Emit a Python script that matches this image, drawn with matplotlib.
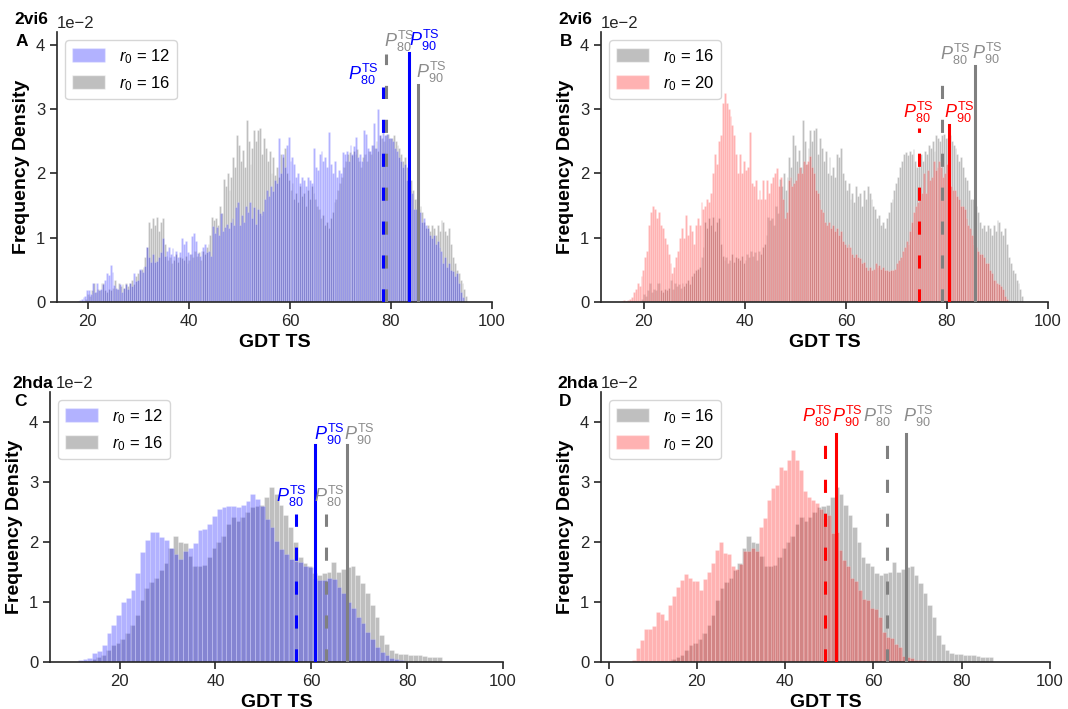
import numpy as np
import matplotlib
matplotlib.use("Agg")
import matplotlib.pyplot as plt
from matplotlib.patches import Patch

plt.rcParams['font.family'] = ['Liberation Sans', 'DejaVu Sans']
plt.rcParams['mathtext.fontset'] = 'custom'
plt.rcParams['mathtext.rm'] = 'Liberation Sans'
plt.rcParams['mathtext.it'] = 'Liberation Sans:italic'
plt.rcParams['mathtext.bf'] = 'Liberation Sans:bold'

# ---- histogram densities (units of 1e-2) -------------------------------
# 2vi6, r0 = 12  (200 bins from 17.8, width 0.383)
vi6_r12_start, vi6_r12_width = 17.8, 0.383
vi6_r12 = [
    0.02, 0.03, 0.05, 0.08, 0.10, 0.18,
    0.18, 0.12, 0.29, 0.15, 0.30, 0.18, 0.20, 0.28, 0.35, 0.45, 0.42, 0.57, 0.47,
    0.26, 0.22, 0.20, 0.28, 0.15, 0.22, 0.28, 0.20, 0.30, 0.25, 0.45, 0.32, 0.34,
    0.52, 0.50, 0.47, 0.56, 0.86, 0.70, 0.62, 0.75, 0.62, 0.64, 0.70, 0.78, 1.00,
    0.72, 0.80, 0.86, 0.75, 0.84, 0.72, 0.80, 0.70, 0.78, 1.00, 0.90, 0.95, 0.78,
    0.75, 1.02, 1.07, 0.95, 0.76, 0.72, 0.80, 0.85, 0.90, 0.78, 0.80, 0.72, 1.18,
    1.07, 1.17, 1.05, 1.38, 1.10, 1.17, 1.22, 1.15, 1.25, 1.30, 1.20, 1.48, 1.56,
    1.20, 1.35, 1.25, 1.50, 1.40, 1.56, 1.30, 1.48, 1.22, 1.45, 1.38, 1.36, 1.42,
    1.60, 1.75, 1.65, 1.80, 1.72, 1.90, 1.85, 2.55, 2.00, 2.30, 2.10, 2.45, 2.57,
    2.20, 2.25, 2.15, 1.95, 2.00, 1.85, 1.95, 1.90, 1.80, 1.95, 1.90, 1.85, 2.39,
    2.10, 2.05, 2.30, 2.35, 2.20, 2.26, 2.10, 2.65, 2.15, 2.00, 2.20, 1.95, 2.05,
    2.00, 2.33, 2.30, 2.35, 2.20, 2.45, 2.30, 2.43, 2.57, 2.25, 2.30, 2.20, 2.67,
    2.62, 2.40, 2.35, 2.45, 2.78, 2.40, 3.00, 2.60, 2.55, 2.65, 2.60, 2.62, 2.55,
    2.55, 2.50, 2.40, 2.35, 2.25, 2.20, 2.10, 2.15, 1.90, 2.00, 1.75, 1.70, 1.45,
    1.45, 1.35, 1.40, 1.25, 1.30, 1.20, 1.15, 1.05, 1.00, 1.05, 0.90, 0.95, 0.85,
    0.80, 0.60, 0.70, 0.55, 0.60, 0.50, 0.48, 0.40, 0.45, 0.30, 0.15, 0.08,
]

# 2vi6, r0 = 16  (200 bins from 19.5, width 0.378)
vi6_r16_start, vi6_r16_width = 19.5, 0.378
vi6_r16 = [
    0.05, 0.12, 0.10, 0.18, 0.29, 0.15, 0.20, 0.18, 0.30, 0.30, 0.18, 0.15, 0.20, 0.18, 0.22,
    0.35, 0.20, 0.29, 0.25, 0.28, 0.22, 0.30, 0.25, 0.30, 0.35, 0.28, 0.40, 0.45,
    0.50, 0.52, 0.55, 0.70, 0.85, 1.25, 1.15, 1.30, 1.20, 1.33, 1.10, 1.25, 1.30,
    0.90, 0.72, 0.65, 0.70, 0.60, 0.65, 0.75, 0.62, 0.70, 0.68, 0.65, 0.72, 0.60,
    0.65, 0.75, 0.70, 0.80, 0.72, 0.78, 0.65, 0.80, 0.75, 0.85, 0.90, 1.05, 1.33,
    1.27, 1.30, 1.20, 1.50, 1.38, 1.92, 1.80, 2.00, 1.75, 1.95, 2.25, 2.10, 2.60, 2.45,
    2.20, 2.36, 2.10, 2.83, 2.50, 2.15, 2.40, 2.67, 2.50, 2.67, 2.70, 2.30, 2.55,
    2.40, 2.20, 2.35, 2.00, 2.25, 1.97, 2.10, 1.95, 2.30, 2.25, 2.40, 2.00, 1.90,
    1.75, 1.85, 1.60, 1.70, 1.55, 1.80, 1.65, 1.70, 1.50, 1.75, 1.60, 1.80, 1.70,
    1.60, 1.50, 1.45, 1.30, 1.35, 1.20, 1.25, 1.15, 1.30, 1.40, 1.55, 1.60, 1.75,
    1.85, 1.95, 2.10, 2.20, 2.30, 2.33, 2.28, 2.35, 2.30, 2.38, 2.20, 2.10, 2.25, 2.30,
    2.20, 2.35, 2.30, 2.45, 2.40, 2.50, 2.35, 2.60, 2.55, 2.50, 2.60, 2.62, 2.55,
    2.55, 2.60, 2.50, 2.45, 2.40, 2.30, 2.20, 2.25, 2.10, 1.95, 1.90, 1.75, 1.60,
    1.60, 1.45, 1.50, 1.40, 1.25, 1.15, 1.20, 1.10, 1.20, 1.15, 1.05, 1.20, 1.10,
    1.27, 1.25, 1.10, 1.05, 1.15, 0.90, 0.70, 0.60, 0.50, 0.45, 0.35, 0.30, 0.20, 0.10,
]

# 2vi6, r0 = 20  (200 bins from 15.5, width 0.383)
vi6_r20_start, vi6_r20_width = 15.5, 0.383
vi6_r20 = [
    0.02, 0.03, 0.02, 0.03, 0.05, 0.08, 0.15, 0.20, 0.30, 0.25,
    0.40, 0.50, 0.70, 0.80, 1.20, 1.40, 1.50, 1.45, 1.30, 1.40,
    1.20, 1.15, 1.00, 0.90, 0.75, 0.60, 0.45, 0.55, 0.70, 0.80,
    1.00, 1.15, 1.00, 1.35, 1.05, 1.20, 1.10, 0.90, 1.20, 1.30,
    1.20, 1.55, 1.45, 1.50, 1.60, 1.55, 1.70, 2.00, 2.30, 2.15,
    2.50, 2.60, 3.10, 3.25, 3.10, 3.00, 2.90, 2.75, 2.60, 2.30,
    2.00, 2.30, 2.00, 2.20, 2.05, 2.10, 2.65, 1.85, 1.80, 1.90,
    1.60, 1.75, 1.60, 1.90, 1.60, 1.90, 1.70, 1.85, 1.95, 2.00,
    2.08, 1.80, 1.95, 1.60, 1.30, 1.40, 1.90, 1.95, 1.80, 1.85,
    1.90, 2.00, 2.10, 2.00, 2.20, 2.15, 2.20, 2.27, 2.10, 2.00,
    1.75, 1.70, 1.60, 1.45, 1.40, 1.25, 1.20, 1.25, 1.15, 1.20,
    1.10, 1.15, 1.05, 1.10, 0.95, 0.90, 0.85, 0.90, 0.85, 0.75,
    0.70, 0.75, 0.70, 0.68, 0.60, 0.62, 0.55, 0.50, 0.55, 0.50,
    0.52, 0.60, 0.55, 0.58, 0.52, 0.55, 0.50, 0.50, 0.48, 0.50,
    0.50, 0.52, 0.60, 0.65, 0.70, 0.80, 0.85, 0.95, 0.90, 1.10,
    1.25, 1.40, 1.50, 1.55, 1.60, 1.70, 2.00, 1.70, 2.05, 1.90,
    1.95, 2.20, 2.05, 2.10, 2.20, 2.10, 1.95, 2.00, 2.15, 2.00,
    1.80, 1.75, 1.75, 1.65, 1.60, 1.50, 1.50, 1.45, 1.30, 1.20,
    1.15, 1.05, 0.90, 0.85, 0.80, 0.75, 0.75, 0.70, 0.60, 0.60,
    0.50, 0.45, 0.35, 0.35, 0.30, 0.28, 0.25, 0.20, 0.10, 0.05,
]

# 2hda, r0 = 12  (68 bins from 11.3, width 1.0)
hda_r12_start, hda_r12_width = 11.3, 1.0
hda_r12 = [
    0.03, 0.05, 0.06, 0.15, 0.19, 0.29, 0.48, 0.61, 0.79, 1.00,
    1.07, 1.20, 1.48, 1.84, 2.04, 2.17, 2.17, 2.09, 2.04, 1.90,
    1.80, 1.72, 1.85, 1.90, 1.98, 2.20, 2.22, 2.30, 2.43, 2.55,
    2.58, 2.60, 2.60, 2.58, 2.62, 2.68, 2.80, 2.72, 2.60, 2.38,
    2.25, 2.02, 1.88, 1.80, 1.72, 1.68, 1.66, 1.60, 1.58, 1.40,
    1.36, 1.36, 1.40, 1.38, 1.25, 1.15, 1.00, 0.90, 0.75, 0.65,
    0.50, 0.38, 0.25, 0.16, 0.12, 0.06, 0.05, 0.03,
]

# 2hda, r0 = 16  (73 bins from 14.2, width 1.0)
hda_r16_start, hda_r16_width = 14.2, 1.0
hda_r16 = [
    0.05, 0.08, 0.12, 0.20, 0.28, 0.32, 0.38, 0.48, 0.62, 0.79,
    1.03, 1.23, 1.34, 1.40, 1.54, 1.65, 1.90, 2.10, 2.00, 1.98,
    1.76, 1.60, 1.60, 1.62, 1.75, 1.90, 2.00, 2.10, 2.30, 2.42,
    2.35, 2.42, 2.50, 2.58, 2.60, 2.62, 2.75, 2.92, 2.80, 2.62,
    2.45, 2.25, 2.00, 1.75, 1.65, 1.60, 1.48, 1.45, 1.48, 1.50,
    1.67, 1.50, 1.55, 1.58, 1.60, 1.45, 1.32, 1.15, 0.95, 0.75,
    0.45, 0.30, 0.20, 0.15, 0.14, 0.13, 0.12, 0.12, 0.11, 0.10,
    0.09, 0.08, 0.08,
]

# 2hda, r0 = 20  (77 bins from 5.3, width 0.9)
hda_r20_start, hda_r20_width = 5.3, 0.9
hda_r20 = [
    0.03, 0.23, 0.37, 0.55, 0.55, 0.60, 0.84, 0.80, 0.70, 0.95,
    1.10, 1.25, 1.37, 1.47, 1.40, 1.35, 1.35, 1.20, 1.38, 1.50,
    1.65, 1.87, 2.00, 1.82, 1.80, 1.60, 1.55, 1.64, 1.85, 1.85,
    1.90, 1.85, 2.25, 2.40, 2.70, 2.90, 2.95, 3.25, 3.20, 3.37,
    3.53, 3.37, 3.20, 2.85, 2.75, 2.70, 2.65, 2.55, 2.40, 2.45,
    2.15, 2.17, 1.87, 1.70, 1.60, 1.40, 1.35, 1.20, 1.05, 1.03,
    0.90, 0.88, 0.75, 0.50, 0.42, 0.40, 0.30, 0.25, 0.10, 0.08,
    0.06, 0.04, 0.03, 0.03, 0.02, 0.02, 0.02,
]

# 80th / 90th percentiles of GDT TS
vi6_p80 = {12: 78.4, 16: 79.05, 20: 74.4}
vi6_p90 = {12: 83.5, 16: 85.45, 20: 80.4}
hda_p80 = {12: 56.9, 16: 63.0, 20: 49.0}
hda_p90 = {12: 60.8, 16: 67.4, 20: 51.5}

# ---- styling ---------------------------------------------------------------
STYLE = {
    12: dict(color='blue', alpha=0.3, line='blue', text='blue'),
    16: dict(color='gray', alpha=0.5, line='gray', text='#8c8c8c'),
    20: dict(color='red', alpha=0.3, line='red', text='red'),
}
DASH = (0, (4.3, 6.8))
LABEL_SIZE = 13


def bars(ax, start, width, values, r0):
    st = STYLE[r0]
    edges = start + width * np.arange(len(values))
    ax.bar(edges, np.asarray(values) * 1e-2, width=width, align='edge',
           color=st['color'], alpha=st['alpha'], edgecolor='white',
           linewidth=0.4, zorder=1)


def pline(ax, x, top, r0, dashed):
    ax.plot([x, x], [0, top * 1e-2], color=STYLE[r0]['line'], lw=2.2,
            linestyle=DASH if dashed else '-', zorder=3)


def plabel(ax, x, y, pct, r0, ha):
    ax.text(x, y * 1e-2, r'$P^{\mathrm{TS}}_{%d}$' % pct, color=STYLE[r0]['text'],
            fontsize=LABEL_SIZE, ha=ha, va='bottom', zorder=4)


def style_axis(ax, xlim, ytop, order, offset_x=0.0):
    ax.set_xlim(*xlim)
    ax.set_ylim(0, ytop * 1e-2)
    ax.ticklabel_format(axis='y', style='sci', scilimits=(0, 0))
    for side in ('top', 'right'):
        ax.spines[side].set_visible(False)
    for side in ('left', 'bottom'):
        ax.spines[side].set_linewidth(1.2)
        ax.spines[side].set_color('#262626')
    ax.tick_params(direction='out', length=5, width=1.2, labelsize=12,
                   color='#262626', labelcolor='#262626')
    off = ax.yaxis.get_offset_text()
    off.set_fontsize(12)
    off.set_x(offset_x)
    ax.set_xlabel('GDT TS', fontsize=14, fontweight='bold')
    ax.set_ylabel('Frequency Density', fontsize=14, fontweight='bold')
    handles = [Patch(facecolor=STYLE[r]['color'], alpha=STYLE[r]['alpha'],
                     edgecolor='white') for r in order]
    labels = [r'$r_0$ = %d' % r for r in order]
    ax.legend(handles, labels, loc='upper left', fontsize=12,
              handlelength=2.0, handleheight=0.9)


fig = plt.figure(figsize=(10.68, 7.09), dpi=100)
W, H = 1068, 709


def add_ax(left, right, top, bottom):
    return fig.add_axes([left / W, 1 - bottom / H, (right - left) / W, (bottom - top) / H])


axA = add_ax(57, 492, 32, 302)
axB = add_ax(601, 1048, 32, 302)
axC = add_ax(50, 503, 392, 662)
axD = add_ax(601, 1050, 392, 662)

# A: 2vi6, r0 = 12 vs 16
bars(axA, vi6_r16_start, vi6_r16_width, vi6_r16, 16)
bars(axA, vi6_r12_start, vi6_r12_width, vi6_r12, 12)
pline(axA, vi6_p80[16], 3.86, 16, True)
pline(axA, vi6_p80[12], 3.35, 12, True)
pline(axA, vi6_p90[12], 3.88, 12, False)
pline(axA, vi6_p90[16], 3.38, 16, False)
plabel(axA, vi6_p80[12] - 0.9, 3.35, 80, 12, 'right')
plabel(axA, vi6_p80[16] - 0.5, 3.86, 80, 16, 'left')
plabel(axA, vi6_p90[12] + 0.15, 3.88, 90, 12, 'left')
plabel(axA, vi6_p90[16] - 0.4, 3.38, 90, 16, 'left')
style_axis(axA, (13.9, 100), 4.2, [12, 16])

# B: 2vi6, r0 = 16 vs 20
bars(axB, vi6_r16_start, vi6_r16_width, vi6_r16, 16)
bars(axB, vi6_r20_start, vi6_r20_width, vi6_r20, 20)
pline(axB, vi6_p80[16], 3.65, 16, True)
pline(axB, vi6_p90[16], 3.67, 16, False)
pline(axB, vi6_p80[20], 2.70, 20, True)
pline(axB, vi6_p90[20], 2.75, 20, False)
plabel(axB, vi6_p80[20] - 0.1, 2.75, 80, 20, 'center')
plabel(axB, vi6_p90[20] - 0.9, 2.75, 90, 20, 'left')
plabel(axB, vi6_p80[16] - 0.4, 3.65, 80, 16, 'left')
plabel(axB, vi6_p90[16] - 0.4, 3.67, 90, 16, 'left')
style_axis(axB, (11.5, 100), 4.2, [16, 20])

# C: 2hda, r0 = 12 vs 16
bars(axC, hda_r16_start, hda_r16_width, hda_r16, 16)
bars(axC, hda_r12_start, hda_r12_width, hda_r12, 12)
pline(axC, hda_p80[16], 2.47, 16, True)
pline(axC, hda_p90[16], 3.62, 16, False)
pline(axC, hda_p80[12], 2.47, 12, True)
pline(axC, hda_p90[12], 3.62, 12, False)
plabel(axC, hda_p80[12] - 1.1, 2.55, 80, 12, 'center')
plabel(axC, hda_p80[16] + 0.8, 2.55, 80, 16, 'center')
plabel(axC, hda_p90[12] - 0.3, 3.58, 90, 12, 'left')
plabel(axC, hda_p90[16] - 0.5, 3.58, 90, 16, 'left')
style_axis(axC, (5.5, 100), 4.5, [12, 16], offset_x=0.012)

# D: 2hda, r0 = 16 vs 20
bars(axD, hda_r16_start, hda_r16_width, hda_r16, 16)
bars(axD, hda_r20_start, hda_r20_width, hda_r20, 20)
pline(axD, hda_p80[16], 3.79, 16, True)
pline(axD, hda_p90[16], 3.80, 16, False)
pline(axD, hda_p80[20], 3.79, 20, True)
pline(axD, hda_p90[20], 3.80, 20, False)
plabel(axD, hda_p80[20] + 1.9, 3.89, 80, 20, 'right')
plabel(axD, hda_p90[20] - 0.8, 3.89, 90, 20, 'left')
plabel(axD, hda_p80[16] + 1.7, 3.89, 80, 16, 'right')
plabel(axD, hda_p90[16] - 0.8, 3.89, 90, 16, 'left')
style_axis(axD, (-1.7, 100), 4.5, [16, 20])

# protein names and panel letters
for (px, py, name, letter, ly) in [(14, 20, '2vi6', 'A', 42), (558, 20, '2vi6', 'B', 42),
                                    (12, 383, '2hda', 'C', 402), (557, 383, '2hda', 'D', 402)]:
    fig.text(px / W, 1 - py / H, name, fontsize=12.5, fontweight='bold', va='center', ha='left')
    fig.text((px + 2) / W, 1 - ly / H, letter, fontsize=12.5, fontweight='bold', va='center', ha='left')

fig.savefig('out.png', dpi=100)
